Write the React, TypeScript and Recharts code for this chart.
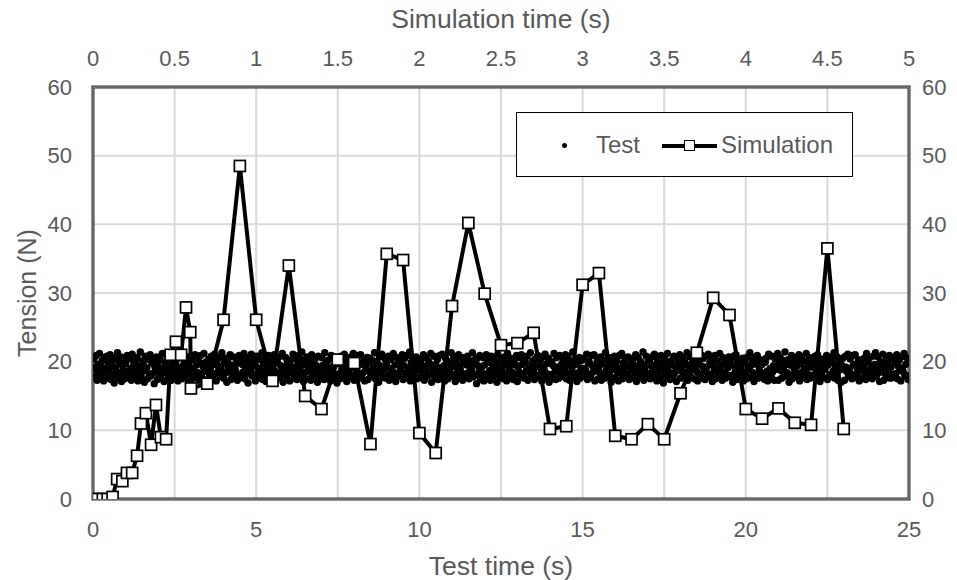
import React from 'react';
import {
  ScatterChart,
  Scatter,
  XAxis,
  YAxis,
  CartesianGrid,
  ReferenceArea,
} from 'recharts';

// test data: tension sampled every 0.025 s of test time
const testStep = 0.025;
const testTension = [
  19.1, 20.4, 17.8, 18.9, 20.9, 17.3, 19.6, 18.4, 21.2, 17.9, 19.3, 20.1, 18.6, 17.2, 20.6, 19.0, 18.2, 20.8, 17.6, 19.8,
  18.7, 21.0, 17.4, 19.4, 20.2, 18.0, 16.9, 20.5, 19.2, 18.5, 21.3, 17.7, 19.9, 18.3, 20.7, 17.1, 19.5, 18.8, 20.3, 17.5,
  19.7, 18.1, 20.9, 17.9, 18.6, 20.4, 19.0, 17.3, 21.1, 18.4, 19.6, 17.6, 20.0, 18.9, 20.6, 17.2, 19.3, 18.2, 21.4, 17.8,
  18.5, 20.1, 19.4, 17.0, 20.8, 18.7, 19.1, 17.5, 20.3, 18.0, 21.0, 17.9, 19.8, 18.3, 20.5, 16.8, 19.2, 18.6, 20.7, 17.4,
  19.9, 18.2, 20.4, 17.7, 19.0, 21.2, 18.4, 17.1, 20.0, 19.5, 18.8, 20.9, 17.6, 19.3, 18.1, 20.6, 17.3, 19.7, 18.9, 21.1,
  17.8, 19.6, 20.2, 18.5, 17.2, 20.7, 19.1, 18.0, 21.3, 17.5, 19.4, 18.7, 20.1, 17.9, 19.8, 18.3, 20.5, 17.0, 19.2, 20.8,
  18.6, 17.4, 20.3, 19.0, 18.1, 21.0, 17.7, 19.5, 20.6, 18.4, 17.3, 19.9, 20.9, 18.2, 17.6, 19.3, 21.2, 18.8, 17.1, 20.0,
  19.7, 18.5, 20.4, 17.8, 19.1, 20.8, 18.0, 17.5, 19.6, 21.1, 18.3, 17.2, 20.2, 19.4, 18.7, 20.6, 17.9, 19.0, 21.3, 18.1,
  17.6, 19.8, 20.5, 18.4, 17.0, 20.1, 19.3, 18.9, 21.0, 17.4, 19.5, 18.2, 20.7, 17.8, 19.2, 18.6, 20.3, 17.3, 19.9, 20.9,
  18.0, 17.7, 20.4, 19.6, 18.5, 21.2, 17.5, 19.1, 20.0, 18.3, 16.9, 20.6, 19.4, 18.8, 21.1, 17.9, 19.7, 18.1, 20.2, 17.2,
  19.3, 20.8, 18.4, 17.6, 20.3, 19.0, 18.7, 21.3, 17.4, 19.8, 18.2, 20.5, 17.1, 19.5, 18.9, 20.9, 17.8, 19.2, 18.0, 20.1,
  17.5, 19.6, 21.0, 18.6, 17.3, 20.4, 19.9, 18.1, 20.7, 17.7, 19.4, 18.5, 21.2, 17.0, 19.1, 18.3, 20.6, 17.9, 19.7, 20.0,
  18.8, 17.2, 20.2, 19.3, 18.4, 21.1, 17.6, 19.0, 20.5, 18.0, 17.4, 19.8, 20.9, 18.7, 17.8, 19.5, 21.4, 18.2, 17.1, 20.3,
  19.6, 18.5, 20.7, 17.5, 19.2, 20.1, 18.9, 17.3, 21.0, 18.1, 19.7, 17.9, 20.4, 18.6, 19.4, 17.0, 20.8, 18.3, 19.1, 17.7,
  20.6, 18.0, 19.5, 17.4, 21.3, 18.8, 19.9, 17.6, 20.2, 18.4, 19.0, 17.2, 20.9, 18.7, 19.3, 17.8, 20.5, 18.1, 19.8, 16.9,
  20.0, 18.2, 19.7, 17.5, 20.8, 18.9, 19.1, 17.9, 21.1, 18.3, 19.6, 17.1, 20.4, 18.5, 19.2, 17.7, 20.7, 18.0, 19.4, 21.2,
  17.3, 19.0, 20.3, 18.6, 17.8, 20.9, 19.5, 18.1, 21.0, 17.6, 19.8, 18.4, 20.1, 17.2, 19.3, 18.8, 20.6, 17.4, 19.9, 20.5,
  18.3, 17.9, 20.2, 19.1, 18.7, 21.3, 17.5, 19.6, 20.0, 18.2, 17.0, 20.7, 19.4, 18.5, 21.1, 17.7, 19.2, 18.9, 20.4, 17.6,
  19.8, 18.0, 20.8, 17.3, 19.0, 20.3, 18.6, 17.8, 21.2, 18.4, 19.5, 17.1, 20.6, 18.1, 19.7, 17.9, 20.1, 18.8, 19.3, 21.0,
  17.4, 19.4, 20.5, 18.3, 17.6, 20.9, 19.1, 18.7, 21.4, 17.2, 19.9, 18.0, 20.2, 17.8, 19.6, 18.5, 20.7, 17.5, 19.0, 20.0,
  18.9, 17.7, 20.4, 19.5, 18.2, 21.0, 17.3, 19.2, 20.6, 18.6, 17.9, 20.1, 19.8, 18.4, 21.2, 17.0, 19.3, 18.1, 20.8, 17.6,
  19.6, 18.5, 20.3, 17.4, 19.1, 20.9, 18.0, 17.8, 21.1, 18.7, 19.4, 17.2, 20.5, 18.3, 19.9, 17.5, 20.0, 18.8, 19.7, 21.3,
  17.9, 19.3, 20.7, 18.1, 17.1, 20.2, 19.6, 18.6, 21.0, 17.6, 19.0, 18.4, 20.6, 17.3, 19.8, 18.2, 20.4, 17.7, 19.5, 20.8,
  18.4, 17.5, 20.1, 19.2, 18.8, 21.3, 17.8, 19.7, 20.3, 18.0, 16.8, 20.5, 19.4, 18.5, 20.9, 17.4, 19.1, 18.3, 20.6, 17.2,
  19.5, 18.2, 21.0, 17.6, 19.9, 20.4, 18.7, 17.3, 20.8, 18.1, 19.3, 17.9, 20.2, 18.6, 19.6, 17.0, 21.1, 18.4, 19.0, 17.7,
  20.3, 18.9, 19.4, 17.5, 20.7, 18.3, 19.8, 17.2, 21.2, 18.0, 19.1, 17.8, 20.5, 18.5, 19.7, 17.4, 20.0, 18.2, 19.5, 20.9,
  17.1, 19.2, 20.6, 18.4, 17.7, 21.0, 19.6, 18.1, 20.3, 17.6, 19.9, 18.7, 20.8, 17.3, 19.0, 18.5, 21.3, 17.9, 19.4, 20.1,
  18.6, 17.4, 20.4, 19.3, 18.0, 20.9, 17.8, 19.5, 20.2, 18.3, 17.2, 20.7, 19.1, 18.8, 21.1, 17.5, 19.7, 18.2, 20.5, 17.0,
  19.8, 18.1, 20.0, 17.7, 19.4, 21.2, 18.5, 17.4, 20.6, 18.9, 19.2, 17.6, 20.9, 18.3, 19.6, 17.9, 20.3, 18.6, 19.0, 21.0,
  17.5, 19.7, 20.8, 18.2, 17.3, 20.1, 19.3, 18.7, 21.4, 17.8, 19.5, 18.0, 20.4, 17.1, 19.9, 18.4, 20.6, 17.6, 19.1, 20.2,
  18.3, 17.9, 20.5, 19.0, 18.6, 21.1, 17.4, 19.8, 20.0, 18.1, 17.7, 20.9, 19.4, 18.5, 21.0, 17.2, 19.6, 18.8, 20.3, 17.5,
  19.2, 18.4, 20.7, 17.3, 19.7, 20.2, 18.0, 17.6, 21.3, 18.7, 19.1, 17.8, 20.6, 18.2, 19.9, 17.0, 20.4, 18.9, 19.5, 20.8,
  17.7, 19.4, 20.1, 18.5, 17.2, 20.9, 19.0, 18.3, 21.2, 17.5, 19.8, 18.6, 20.5, 17.9, 19.3, 18.1, 20.7, 17.4, 19.6, 20.3,
  18.8, 17.6, 20.4, 19.5, 18.2, 21.0, 17.1, 19.2, 20.6, 18.4, 17.8, 20.0, 19.7, 18.6, 21.4, 17.3, 19.0, 18.0, 20.8, 17.9,
  19.9, 18.3, 20.2, 17.5, 19.4, 20.7, 18.9, 17.7, 21.1, 18.1, 19.6, 17.2, 20.3, 18.5, 19.1, 17.6, 20.9, 18.7, 19.8, 16.9,
  20.5, 18.0, 19.3, 17.8, 21.2, 18.6, 19.7, 17.4, 20.1, 18.2, 19.5, 17.9, 20.8, 18.4, 19.2, 17.1, 20.4, 18.8, 19.9, 21.0,
  17.6, 19.1, 20.6, 18.3, 17.9, 20.3, 19.6, 18.5, 21.3, 17.3, 19.4, 18.1, 20.7, 17.7, 19.8, 18.9, 20.0, 17.5, 19.0, 20.9,
  18.5, 17.2, 20.2, 19.7, 18.1, 21.0, 17.6, 19.3, 20.5, 18.7, 17.4, 20.8, 19.2, 18.3, 21.1, 17.8, 19.9, 18.0, 20.4, 17.1,
  19.4, 18.6, 20.9, 17.5, 19.0, 20.1, 18.2, 17.9, 21.2, 18.8, 19.5, 17.3, 20.6, 18.4, 19.7, 17.6, 20.3, 18.1, 19.1, 20.7,
  17.8, 19.6, 20.4, 18.0, 17.0, 20.8, 19.3, 18.5, 21.0, 17.4, 19.9, 18.3, 20.2, 17.7, 19.2, 18.6, 20.5, 17.2, 19.8, 20.0,
  18.2, 17.5, 20.7, 19.1, 18.9, 21.3, 17.7, 19.5, 20.1, 18.4, 17.1, 20.6, 19.7, 18.0, 20.9, 17.6, 19.3, 18.7, 20.3, 17.9,
  19.6, 18.3, 20.0, 17.4, 19.9, 20.5, 18.6, 17.2, 21.1, 18.1, 19.0, 17.8, 20.8, 18.5, 19.4, 17.3, 20.4, 18.9, 19.2, 21.2,
  17.3, 19.8, 20.6, 18.7, 17.6, 20.2, 19.1, 18.2, 21.4, 17.9, 19.6, 18.4, 20.3, 17.0, 19.5, 18.0, 20.9, 17.5, 19.3, 20.1,
  18.7, 17.8, 20.5, 19.4, 18.3, 21.0, 17.2, 19.7, 20.7, 18.5, 17.7, 20.1, 19.0, 18.8, 21.2, 17.4, 19.9, 18.1, 20.6, 17.6,
  19.2, 18.0, 20.3, 17.9, 19.6, 20.8, 18.4, 17.5, 21.0, 18.6, 19.3, 17.1, 20.4, 18.2, 19.8, 17.7, 20.0, 18.9, 19.5, 20.9,
  17.4, 19.5, 20.1, 18.1, 17.8, 20.6, 19.9, 18.6, 21.3, 17.6, 19.2, 18.3, 20.7, 17.3, 19.7, 18.8, 20.2, 17.0, 19.4, 20.5,
  18.9, 17.3, 20.8, 19.2, 18.5, 21.1, 17.9, 19.0, 20.4, 18.2, 17.5, 20.9, 19.6, 18.0, 21.0, 17.7, 19.1, 18.4, 20.3, 17.2,
  19.7, 18.8, 20.2, 17.6, 19.3, 20.5, 18.3, 17.4, 21.2, 18.7, 19.8, 17.8, 20.6, 18.1, 19.0, 17.5, 20.8, 18.5, 19.6, 21.3,
  17.9, 19.1, 20.7, 18.4, 17.1, 20.0, 19.5, 18.9, 21.1, 17.3, 19.4, 18.2, 20.3, 17.7, 19.9, 18.6, 20.9, 17.6, 19.2, 20.4,
  18.1, 17.7, 20.6, 19.8, 18.3, 21.0, 17.5, 19.3, 20.2, 18.8, 17.2, 20.7, 19.0, 18.5, 21.2, 17.9, 19.6, 18.0, 20.5, 17.4,
];

// simulation data (simulation time, s)
const simTime = [
  0, 0.03, 0.06, 0.09, 0.12, 0.148, 0.18, 0.208, 0.24, 0.27, 0.294, 0.324, 0.356, 0.386, 0.416, 0.448,
  0.476, 0.508, 0.54, 0.57, 0.596, 0.6,
  0.7, 0.8, 0.9, 1.0, 1.1, 1.2, 1.3, 1.4, 1.5, 1.6, 1.7, 1.8, 1.9, 2.0, 2.1, 2.2, 2.3, 2.4, 2.5, 2.6,
  2.7, 2.8, 2.9, 3.0, 3.1, 3.2, 3.3, 3.4, 3.5, 3.6, 3.7, 3.8, 3.9, 4.0, 4.1, 4.2, 4.3, 4.4, 4.5, 4.6,
];
const simTension = [
  0, 0, 0, 0, 0.3, 2.9, 2.6, 3.8, 3.8, 6.3, 11.0, 12.5, 7.9, 13.7, 9.0, 8.7,
  21.0, 22.9, 21.0, 27.9, 24.3, 16.1,
  16.8, 26.1, 48.5, 26.1, 17.2, 34.0, 15.0, 13.1, 20.3, 19.8, 8.0, 35.7, 34.8, 9.6, 6.7, 28.1, 40.2, 29.9,
  22.4, 22.7, 24.2, 10.2, 10.6, 31.2, 32.9, 9.2, 8.7, 10.9, 8.7, 15.4, 21.3, 29.3, 26.8, 13.1, 11.7, 13.2,
  11.1, 10.8, 36.5, 10.2,
];

const testTicks = [0, 5, 10, 15, 20, 25];
const simTicks = [0, 0.5, 1, 1.5, 2, 2.5, 3, 3.5, 4, 4.5, 5];
const tensionTicks = [0, 10, 20, 30, 40, 50, 60];

const testPoints = testTension.map((y, i) => ({ x: i * testStep, y }));
const simPoints = simTime.map((x, i) => ({ x, y: simTension[i] }));

const FONT = '"Liberation Sans", Arial, sans-serif';
const TEXT = '#595959';
const tickStyle = { fill: TEXT, fontSize: 22, fontFamily: FONT };
const titleStyle = { fill: TEXT, fontSize: 26.5, fontFamily: FONT };

const TestDot = (props: any) => <circle cx={props.cx} cy={props.cy} r={3.7} fill="#000" />;

const SimSquare = (props: any) => (
  <rect x={props.cx - 5.5} y={props.cy - 5.5} width={11} height={11} fill="#fff" stroke="#000" strokeWidth={1.7} />
);

function LegendBox() {
  return (
    <div
      style={{
        position: 'absolute',
        left: 516,
        top: 112,
        width: 335,
        height: 63,
        border: '1px solid #000',
        background: '#fff',
        fontFamily: FONT,
        fontSize: 24,
        color: TEXT,
      }}
    >
      <div style={{ position: 'absolute', left: 45, top: 30, width: 5, height: 5, borderRadius: '50%', background: '#000' }} />
      <span style={{ position: 'absolute', left: 79, top: 18, lineHeight: '27px' }}>Test</span>
      <div style={{ position: 'absolute', left: 145, top: 31, width: 55, height: 4, background: '#000' }} />
      <div style={{ position: 'absolute', left: 167, top: 27, width: 9, height: 9, background: '#fff', border: '1.5px solid #000' }} />
      <span style={{ position: 'absolute', left: 204, top: 18, lineHeight: '27px' }}>Simulation</span>
    </div>
  );
}

export default function App() {
  return (
    <div style={{ position: 'absolute', left: 0, top: 0, width: 957, height: 580, background: '#fff' }}>
      <ScatterChart width={957} height={580} margin={{ top: 0, right: 0, bottom: 0, left: 0 }}>
        <CartesianGrid xAxisId="top" yAxisId="left" stroke="#d9d9d9" strokeWidth={2} />
        <XAxis
          xAxisId="bottom"
          type="number"
          dataKey="x"
          domain={[0, 25]}
          ticks={testTicks}
          height={81}
          tickLine={false}
          axisLine={false}
          tickMargin={16}
          tick={tickStyle}
          allowDataOverflow
          label={{ value: 'Test time (s)', position: 'insideBottom', offset: 5, style: titleStyle }}
        />
        <XAxis
          xAxisId="top"
          orientation="top"
          type="number"
          dataKey="x"
          domain={[0, 5]}
          ticks={simTicks}
          height={87}
          tickLine={false}
          axisLine={false}
          tickMargin={15}
          tick={tickStyle}
          allowDataOverflow
          label={{ value: 'Simulation time (s)', position: 'insideTop', offset: 9, style: titleStyle }}
        />
        <YAxis
          yAxisId="left"
          type="number"
          dataKey="y"
          domain={[0, 60]}
          ticks={tensionTicks}
          width={93}
          tickLine={false}
          axisLine={false}
          tickMargin={15}
          tick={tickStyle}
          allowDataOverflow
          label={{ value: 'Tension (N)', angle: -90, position: 'insideLeft', offset: 27, style: { ...titleStyle, fontSize: 25, textAnchor: 'middle' } }}
        />
        <YAxis
          yAxisId="right"
          orientation="right"
          type="number"
          dataKey="y"
          domain={[0, 60]}
          ticks={tensionTicks}
          width={48}
          tickLine={false}
          axisLine={false}
          tickMargin={7}
          tick={tickStyle}
          allowDataOverflow
        />
        <ReferenceArea xAxisId="bottom" yAxisId="left" x1={0} x2={25} y1={0} y2={60} fill="none" stroke="#2b2b2b" strokeWidth={3} />
        <ReferenceArea xAxisId="bottom" yAxisId="left" x1={0} x2={25} y1={0} y2={60} fill="none" stroke="#a6a6a6" strokeWidth={1} />
        <Scatter
          name="Test"
          data={testPoints}
          xAxisId="bottom"
          yAxisId="left"
          shape={TestDot}
          isAnimationActive={false}
        />
        <Scatter
          name="Simulation"
          data={simPoints}
          xAxisId="top"
          yAxisId="left"
          line={{ stroke: '#000', strokeWidth: 4 }}
          lineType="joint"
          shape={SimSquare}
          isAnimationActive={false}
        />
      </ScatterChart>
      <LegendBox />
    </div>
  );
}
